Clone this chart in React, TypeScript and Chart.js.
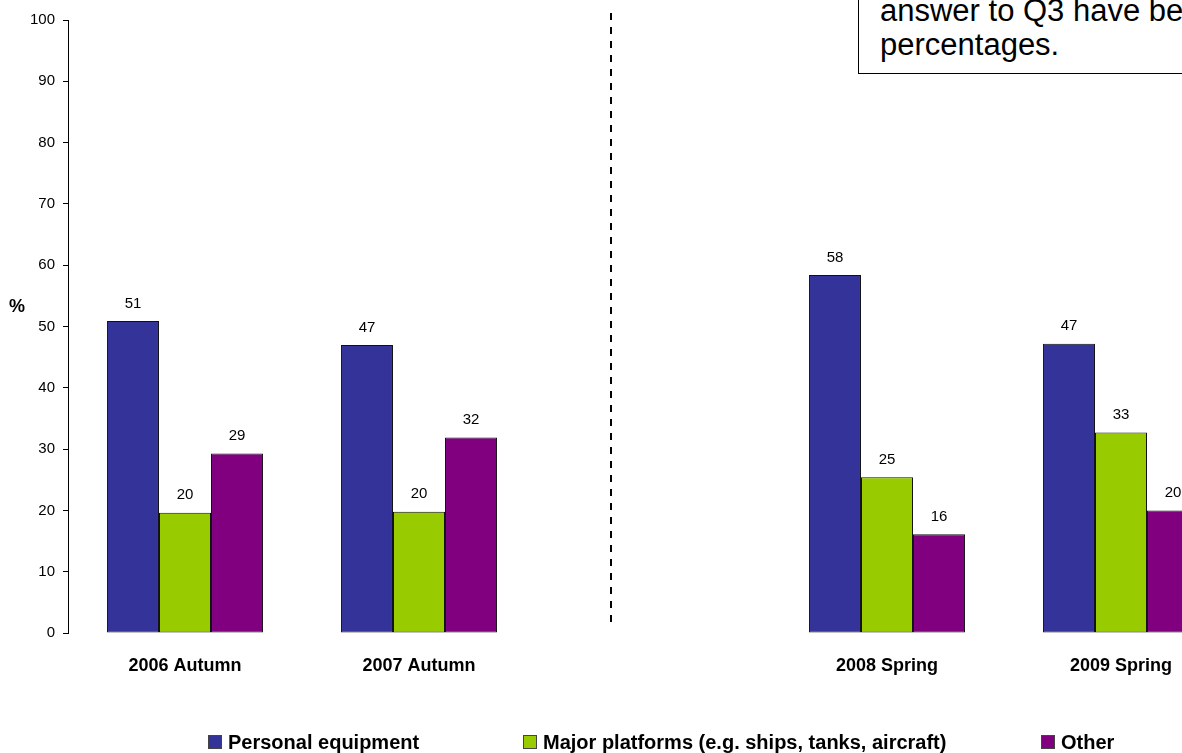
import React, { useEffect, useRef } from "react";
import { Chart, registerables } from "chart.js";

Chart.register(...registerables);

const categories = ["2006 Autumn", "2007 Autumn", "", "2008 Spring", "2009 Spring"];
const personalEquipment = [50.9, 47.0, null, 58.4, 47.2];
const majorPlatforms = [19.6, 19.8, null, 25.4, 32.7];
const other = [29.3, 31.9, null, 16.1, 20.0];
const yTicks = [0, 10, 20, 30, 40, 50, 60, 70, 80, 90, 100];
const seriesNames = ["Personal equipment", "Major platforms (e.g. ships, tanks, aircraft)", "Other"];
const seriesColors = ["#333399", "#99CC00", "#800080"];
const dividerPosition = 1.82; // category-scale position of the dashed divider

const FONT = "'Liberation Sans', Arial, sans-serif";

const labelPlugin = {
  id: "barLabels",
  afterDatasetsDraw(chart: any) {
    const ctx = chart.ctx;
    ctx.save();
    ctx.font = `15px ${FONT}`;
    ctx.fillStyle = "#000";
    ctx.textAlign = "center";
    ctx.textBaseline = "bottom";
    chart.data.datasets.forEach((ds: any, i: number) => {
      const meta = chart.getDatasetMeta(i);
      meta.data.forEach((el: any, j: number) => {
        const v = ds.data[j];
        if (v === null || v === undefined) return;
        ctx.fillText(String(Math.round(v)), el.x, el.y - 10);
      });
    });
    ctx.restore();
  },
};

const dividerPlugin = {
  id: "divider",
  afterDraw(chart: any) {
    const ctx = chart.ctx;
    const x = Math.round(chart.scales.x.getPixelForValue(dividerPosition));
    ctx.save();
    ctx.strokeStyle = "#000";
    ctx.lineWidth = 2;
    ctx.setLineDash([7, 7]);
    ctx.beginPath();
    ctx.moveTo(x, 13);
    ctx.lineTo(x, 626);
    ctx.stroke();
    ctx.restore();
  },
};

export default function App() {
  const ref = useRef<HTMLCanvasElement | null>(null);

  useEffect(() => {
    document.body.style.overflow = "hidden";
    const canvas = ref.current;
    if (!canvas) return;
    const chart = new Chart(canvas, {
      type: "bar",
      data: {
        labels: categories,
        datasets: [
          { label: seriesNames[0], data: personalEquipment, backgroundColor: seriesColors[0] },
          { label: seriesNames[1], data: majorPlatforms, backgroundColor: seriesColors[1] },
          { label: seriesNames[2], data: other, backgroundColor: seriesColors[2] },
        ].map((d) => ({
          ...d,
          borderColor: "#111",
          borderWidth: 1,
          borderSkipped: false,
          categoryPercentage: 0.667,
          barPercentage: 1.0,
        })) as any,
      },
      options: {
        animation: false,
        responsive: false,
        maintainAspectRatio: false,
        layout: { padding: { top: 20, right: 12, left: 0, bottom: 0 } },
        plugins: {
          legend: { display: false },
          tooltip: { enabled: false },
          title: { display: false },
        },
        scales: {
          x: {
            grid: { display: false },
            border: { display: false },
            ticks: {
              color: "#000",
              font: { family: FONT, size: 18, weight: "bold" },
              padding: 14,
              maxRotation: 0,
              autoSkip: false,
            },
            afterFit(scale: any) {
              scale.height = 120;
            },
          },
          y: {
            min: 0,
            max: 100,
            afterBuildTicks(scale: any) {
              scale.ticks = yTicks.map((v) => ({ value: v }));
            },
            grid: {
              display: true,
              drawOnChartArea: false,
              drawTicks: true,
              tickLength: 5,
              color: "#000",
            },
            border: { display: true, color: "#000", width: 1 },
            ticks: {
              color: "#000",
              font: { family: FONT, size: 15 },
              padding: 8,
            },
            afterFit(scale: any) {
              scale.width = 68;
            },
          },
        },
      } as any,
      plugins: [labelPlugin, dividerPlugin],
    });
    return () => chart.destroy();
  }, []);

  const legendLefts = [208, 523, 1041];

  return (
    <div
      style={{
        position: "fixed",
        left: 0,
        top: 0,
        width: 1182,
        height: 753,
        overflow: "hidden",
        background: "#fff",
        fontFamily: FONT,
      }}
    >
      <canvas ref={ref} width={1250} height={753} style={{ position: "absolute", left: 0, top: 0, width: 1250, height: 753 }} />
      <div
        style={{
          position: "absolute",
          left: 9,
          top: 295,
          fontSize: 18,
          fontWeight: "bold",
          color: "#000",
          lineHeight: "22px",
        }}
      >
        %
      </div>
      <div
        style={{
          position: "absolute",
          left: 858,
          top: -40,
          width: 400,
          height: 114,
          border: "1.5px solid #000",
          background: "#fff",
          boxSizing: "border-box",
          fontSize: 31,
          lineHeight: "35px",
          color: "#000",
          paddingLeft: 21,
          paddingTop: 0,
          whiteSpace: "nowrap",
        }}
      >
        <div style={{ height: 35 }}></div>
        <div style={{ marginTop: -3 }}>answer to Q3 have been</div>
        <div style={{ marginTop: -1 }}>percentages.</div>
      </div>
      {seriesNames.map((name, i) => (
        <div
          key={name}
          style={{
            position: "absolute",
            left: legendLefts[i],
            top: 730,
            display: "flex",
            alignItems: "center",
            fontSize: 20,
            fontWeight: "bold",
            color: "#000",
            whiteSpace: "nowrap",
            lineHeight: "24px",
          }}
        >
          <span
            style={{
              display: "inline-block",
              width: 12,
              height: 12,
              background: seriesColors[i],
              border: "1px solid #444",
              marginRight: 6,
            }}
          ></span>
          {name}
        </div>
      ))}
    </div>
  );
}
